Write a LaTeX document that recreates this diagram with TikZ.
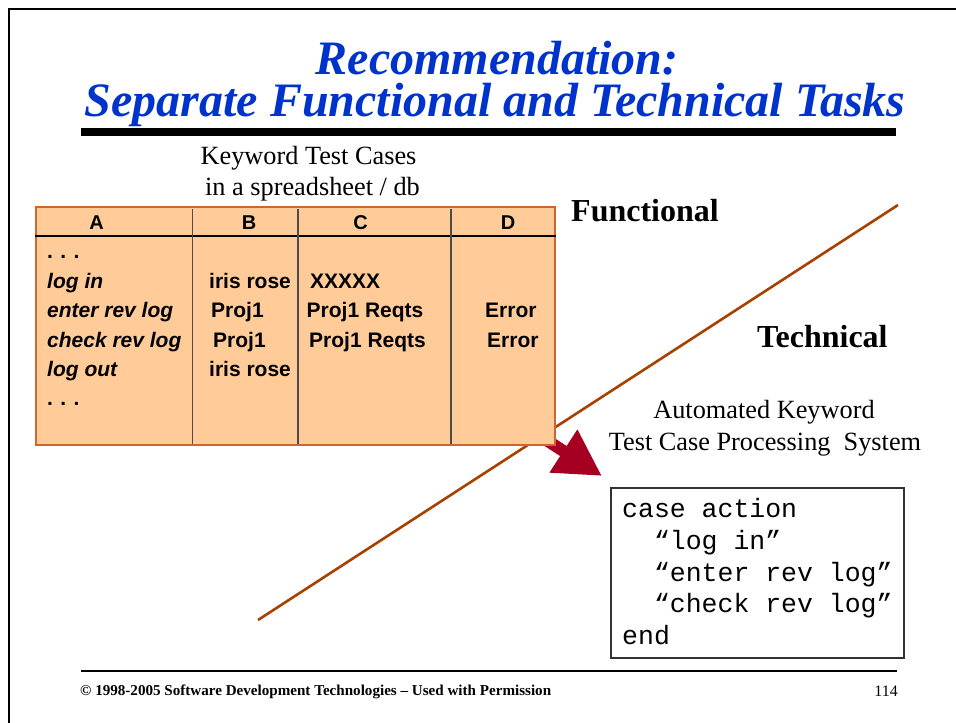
\documentclass[tikz,border=0pt]{standalone}
\usepackage{fontspec}
\setmainfont{Liberation Serif}
\setmonofont{Liberation Mono}
\newfontfamily\arialfont{Liberation Sans}
\usetikzlibrary{arrows.meta}

\definecolor{titleblue}{RGB}{0,51,204}
\definecolor{sheetfill}{RGB}{255,204,153}
\definecolor{sheetedge}{RGB}{204,102,51}
\definecolor{dividebrown}{RGB}{168,64,0}
\definecolor{flowred}{RGB}{165,0,33}

\pgfdeclarelayer{behind}
\pgfsetlayers{behind,main}

\tikzset{
  titletext/.style={font=\fontsize{48}{52}\selectfont\bfseries\itshape, text=titleblue, inner sep=0, anchor=base},
  captiontext/.style={font=\fontsize{26.3}{30}\selectfont, inner sep=0, anchor=base},
  sidetext/.style={font=\fontsize{32}{36}\selectfont\bfseries, inner sep=0, anchor=base west},
  celltext/.style={font=\arialfont\fontsize{21}{24}\selectfont\bfseries, inner sep=0, anchor=base west},
  cellkey/.style={celltext, font=\arialfont\fontsize{21}{24}\selectfont\bfseries\itshape},
  headtext/.style={font=\arialfont\fontsize{20}{24}\selectfont\bfseries, inner sep=0, anchor=base},
  codetext/.style={font=\ttfamily\fontsize{26.5}{31}\selectfont, inner sep=0, anchor=base west},
  sheetbox/.style={draw=sheetedge, fill=sheetfill, line width=1.5pt, inner sep=0, anchor=north west},
  codebox/.style={draw=black!80, fill=white, line width=1.5pt, inner sep=0, anchor=north west},
  footertext/.style={font=\fontsize{15.1}{17}\selectfont, inner sep=0, anchor=base west},
}

\begin{document}
\begin{tikzpicture}[x=1pt, y=-1pt]
\useasboundingbox (0,0) rectangle (956,723);

% slide frame
\draw[line width=2.4pt] (9.2,723) -- (9.2,9.2) -- (956,9.2);

% title
\node[titletext] (title1) at (497,74) {Recommendation:};
\node[titletext] (title2) at (495,116) {Separate Functional and Technical Tasks};
\fill (81,128) rectangle (896,136);

% caption over the spreadsheet
\node[captiontext] (cap1) at (308.5,164) {Keyword Test Cases};
\node[captiontext] (cap2) at (312.5,195) {in a spreadsheet / db};

% spreadsheet
\node[sheetbox, minimum width=519pt, minimum height=238pt] (tbl) at (35,206) {};
\draw[black, line width=1.5pt] (tbl.west |- 0,236) -- (tbl.east |- 0,236);
\foreach \cx in {192.5,298,451}
  \draw[black!70, line width=1.2pt] (\cx,209) -- (\cx,444);

\node[headtext] (hA) at (96.5,229) {A};
\node[headtext] (hB) at (249,229) {B};
\node[headtext] (hC) at (360.5,229) {C};
\node[headtext] (hD) at (508,229) {D};

\node[celltext] (a0) at (47,258) {.\hspace{0.35em}.\hspace{0.35em}.};
\node[cellkey] (a1) at (47,288) {log in};
\node[cellkey] (a2) at (47,317) {enter rev log};
\node[cellkey] (a3) at (47,347) {check rev log};
\node[cellkey] (a4) at (47,376) {log out};
\node[celltext] (a5) at (47,405) {.\hspace{0.35em}.\hspace{0.35em}.};

\node[celltext] (b1) at (209,288) {iris rose};
\node[celltext] (b2) at (211,317) {Proj1};
\node[celltext] (b3) at (213,347) {Proj1};
\node[celltext] (b4) at (209,376) {iris rose};

\node[celltext] (cc1) at (310,288) {XXXXX};
\node[celltext] (cc2) at (306.5,317) {Proj1 Reqts};
\node[celltext] (cc3) at (309,347) {Proj1 Reqts};

\node[celltext] (d2) at (485,317) {Error};
\node[celltext] (d3) at (487,347) {Error};

% functional / technical labels
\node[sidetext] (func) at (571,221) {Functional};
\node[sidetext] (tech) at (757,347) {Technical};

% code box and its caption
\node[captiontext] (sys1) at (764,418) {Automated Keyword};
\node[captiontext] (sys2) at (765,450) {Test Case Processing\ \ System};
\node[codebox, minimum width=293pt, minimum height=170pt] (code) at (610,487) {};
\node[codetext] (c1) at (622,517) {case action};
\node[codetext] (c2) at (622,549) {\phantom{xx}“log in”};
\node[codetext] (c3) at (622,581) {\phantom{xx}“enter rev log”};
\node[codetext] (c4) at (622,612) {\phantom{xx}“check rev log”};
\node[codetext] (c5) at (622,644) {end};

% divide line and flow arrow pass behind the sheet
\begin{pgfonlayer}{behind}
  \coordinate (divlow) at (258,620);
  \coordinate (divhigh) at (898,205);
  \draw[dividebrown, line width=2.6pt] (divlow) -- (divhigh);
  \draw[flowred, line width=12pt, -{Triangle[width=48pt,length=46pt]}]
    ([shift={(-30,-19)}]tbl.south east) -- ([shift={(-8,-11)}]code.north west);
\end{pgfonlayer}

% footer
\draw[line width=2.2pt] (81,671) -- (897,671);
\node[footertext, font=\fontsize{15.1}{17}\selectfont\bfseries] (copy) at (80,695) {© 1998-2005 Software Development Technologies – Used with Permission};
\node[footertext, font=\fontsize{16}{18}\selectfont, anchor=base east] (page) at (898,696) {114};
\end{tikzpicture}
\end{document}
